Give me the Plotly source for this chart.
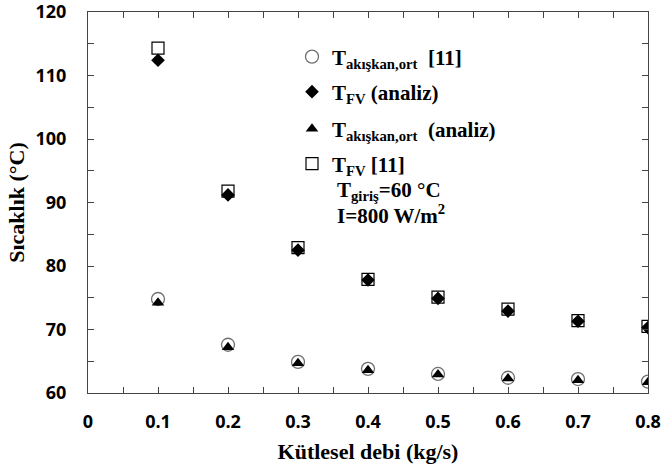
import plotly.graph_objects as go

debi = [0.1, 0.2, 0.3, 0.4, 0.5, 0.6, 0.7, 0.8]
t_akiskan_ref = [74.8, 67.6, 64.9, 63.8, 63.0, 62.4, 62.2, 61.8]
t_fv_analiz = [112.4, 91.2, 82.5, 77.8, 74.9, 72.9, 71.3, 70.3]
t_akiskan_analiz = [74.2, 67.2, 64.7, 63.6, 62.9, 62.3, 62.0, 61.7]
t_fv_ref = [114.3, 91.8, 82.9, 77.9, 75.1, 73.2, 71.4, 70.5]

names = [
    "<b>T<sub>akışkan,ort</sub>  [11]</b>",
    "<b>T<sub>FV</sub> (analiz)</b>",
    "<b>T<sub>akışkan,ort</sub>  (analiz)</b>",
    "<b>T<sub>FV</sub> [11]</b>",
]
xtick_vals = [0, 0.1, 0.2, 0.3, 0.4, 0.5, 0.6, 0.7, 0.8]
xtick_text = ["0", "0.1", "0.2", "0.3", "0.4", "0.5", "0.6", "0.7", "0.8"]
ytick_vals = [60, 70, 80, 90, 100, 110, 120]

serif = "Liberation Serif"
sans = "Open Sans"

fig = go.Figure()
fig.add_trace(go.Scatter(x=debi, y=t_akiskan_ref, mode="markers", name=names[0],
                         marker=dict(symbol="circle-open", size=13, color="#707070", line=dict(width=1.3, color="#707070")),
                         legend="legend"))
fig.add_trace(go.Scatter(x=debi, y=t_fv_analiz, mode="markers", name=names[1],
                         marker=dict(symbol="diamond", size=10.5, color="black"), legend="legend2"))
fig.add_trace(go.Scatter(x=debi, y=t_akiskan_analiz, mode="markers", name=names[2],
                         marker=dict(symbol="triangle-up", size=11, color="black"), legend="legend3"))
fig.add_trace(go.Scatter(x=debi, y=t_fv_ref, mode="markers", name=names[3],
                         marker=dict(symbol="square-open", size=12, color="black", line=dict(width=1.2, color="black")),
                         legend="legend4"))

L, R, T, B = 88, 17, 12, 75
W, H = 665, 468
pw, ph = W - L - R, H - T - B

def px(xp):
    return (xp - L) / pw

def py(yp):
    return (H - B - yp) / ph

leg_common = dict(font=dict(family=serif, size=21, color="black"), bgcolor="rgba(0,0,0,0)",
                  xanchor="left", yanchor="middle", itemwidth=30, borderwidth=0)
legend_rows = [57, 92, 129, 164]
layout_legends = {}
for i, yrow in enumerate(legend_rows):
    key = "legend" if i == 0 else f"legend{i+1}"
    layout_legends[key] = dict(leg_common, x=px(292), y=py(yrow))

fig.update_layout(
    width=W, height=H,
    margin=dict(l=L, r=R, t=T, b=B, autoexpand=False),
    plot_bgcolor="white", paper_bgcolor="white",
    showlegend=True,
    **layout_legends,
)

axis_common = dict(showgrid=False, zeroline=False, showline=True, linecolor="#444444", linewidth=1,
                   ticks="inside", ticklen=6, tickcolor="#444444", mirror="allticks", automargin=False,
                   ticklabeloverflow="allow",
                   tickfont=dict(family=sans, size=18, color="black", weight="bold"))
fig.update_xaxes(range=[0, 0.8], tickvals=xtick_vals, ticktext=xtick_text, ticklabelstandoff=12,
                 minor=dict(dtick=0.05, ticks="inside", ticklen=6, tickcolor="#444444"),
                 title=dict(text="<b>Kütlesel debi (kg/s)</b>", font=dict(family=serif, size=22, color="black"), standoff=12),
                 **axis_common)
fig.update_yaxes(range=[60, 120], tickvals=ytick_vals, ticklabelstandoff=17,
                 minor=dict(dtick=5, ticks="inside", ticklen=6, tickcolor="#444444"),
                 title=dict(text="<b>Sıcaklık (°C)</b>", font=dict(family=serif, size=22, color="black"), standoff=4),
                 **axis_common)

fig.add_annotation(xref="paper", yref="paper", x=px(335), y=py(191), xanchor="left", yanchor="middle",
                   text="<b>T<sub>giriş</sub>=60 °C</b>", showarrow=False,
                   font=dict(family=serif, size=21, color="black"))
fig.add_annotation(xref="paper", yref="paper", x=px(335), y=py(214), xanchor="left", yanchor="middle",
                   text="<b>I=800 W/m<sup>2</sup></b>", showarrow=False,
                   font=dict(family=serif, size=21, color="black"))

fig.write_html("out.html", config={"displayModeBar": False},
               post_script="document.body.style.margin='0px';")
